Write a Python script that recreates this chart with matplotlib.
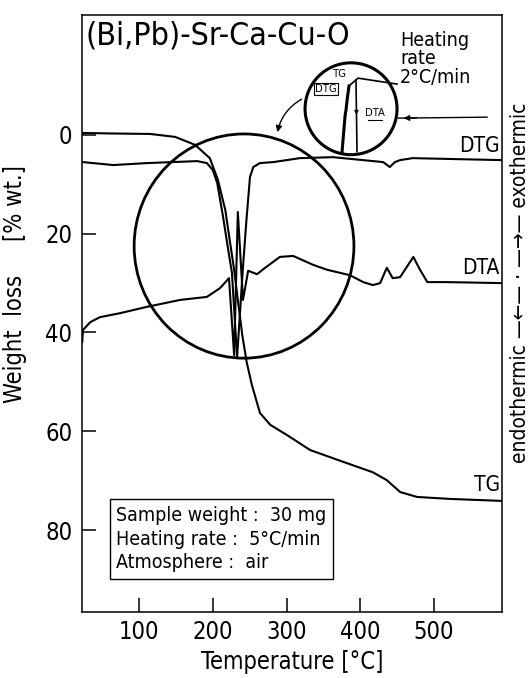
import matplotlib
matplotlib.use("Agg")
import matplotlib.pyplot as plt
from matplotlib.patches import Ellipse, FancyArrowPatch

plt.rcParams['font.family'] = ['DejaVu Sans']
plt.rcParams['font.stretch'] = 'condensed'

# ---------------- data ----------------
tg_temp = [24, 60, 115, 149, 176, 196, 207, 217, 223, 229, 234, 240, 246, 253,
           264, 278, 301, 332, 377, 417, 436, 454, 477, 522, 592]
tg_loss = [-0.4, -0.3, -0.2, 0.4, 2.0, 4.7, 9.1, 15.2, 21.3, 27.3, 33.4, 40.5,
           46.0, 50.6, 56.3, 58.7, 60.8, 63.8, 66.2, 68.3, 69.9, 72.3, 73.3, 73.7, 74.1]

dtg_temp = [24, 65, 111, 179, 192, 200, 206, 214, 221, 226, 233, 241, 246, 250.5,
            255, 264, 282, 318, 363, 431, 440, 447, 454, 471, 592]
dtg_val = [5.5, 6.1, 5.7, 5.3, 5.7, 7.1, 9.7, 16.6, 23.3, 27.9, 45.0, 26.7, 16.6,
           8.5, 6.5, 5.7, 5.5, 4.7, 4.5, 5.5, 6.5, 5.5, 5.1, 4.7, 5.1]

dta_temp = [23, 24, 34, 47, 74, 111, 156, 192, 210, 222, 229, 234, 241, 248, 260,
            271, 291, 309, 336, 355, 386, 404, 417, 427, 436, 444, 454, 472, 481,
            491, 518, 592]
dta_val = [41.9, 39.5, 37.9, 36.9, 36.1, 34.8, 33.4, 32.8, 31.0, 29.0, 44.6, 15.6,
           33.4, 27.5, 28.2, 26.9, 24.7, 24.5, 26.3, 27.3, 28.4, 29.8, 30.4, 30.0,
           26.9, 29.0, 28.8, 24.7, 27.3, 29.8, 29.8, 30.0]

x_ticks = [100, 200, 300, 400, 500]
y_ticks = [0, 20, 40, 60, 80]
title = "(Bi,Pb)-Sr-Ca-Cu-O"
info_lines = ["Sample weight :  30 mg", "Heating rate :  5°C/min", "Atmosphere :  air"]
curve_labels = ["DTG", "DTA", "TG"]

# ---------------- figure ----------------
fig = plt.figure(figsize=(5.3, 6.78), dpi=100)
ax = fig.add_axes([0.1547, 0.0973, 0.7925, 0.8807])

lw = 1.5
ax.plot(tg_temp, tg_loss, color='black', lw=lw)
ax.plot(dtg_temp, dtg_val, color='black', lw=lw)
ax.plot(dta_temp, dta_val, color='black', lw=lw)

ax.set_xlim(22.7, 592.2)
ax.set_ylim(96.6, -24.3)
ax.set_xticks(x_ticks)
ax.set_yticks(y_ticks)
ax.tick_params(direction='in', length=10, width=1.1, labelsize=17,
               top=False, right=False)
ax.tick_params(axis='y', pad=7)
ax.tick_params(axis='x', pad=6)
for s in ax.spines.values():
    s.set_linewidth(1.1)

ax.set_xlabel("Temperature [°C]", fontsize=17, labelpad=4)
ax.set_ylabel("Weight  loss     [% wt.]", fontsize=17)
ax.yaxis.set_label_coords(-0.13, 0.55)

# title inside axes
ax.text(0.008, 0.99, title, transform=ax.transAxes, fontsize=23,
        ha='left', va='top')

# curve labels at right
ytr = ax.get_yaxis_transform()
ax.text(0.995, 4.3, curve_labels[0], fontsize=15, ha='right', va='bottom', transform=ytr)
ax.text(0.995, 29.0, curve_labels[1], fontsize=15, ha='right', va='bottom', transform=ytr)
ax.text(0.995, 73.0, curve_labels[2], fontsize=15, ha='right', va='bottom', transform=ytr)

# info box
ax.text(0.082, 0.067, "\n".join(info_lines), transform=ax.transAxes,
        fontsize=14, ha='left', va='bottom', linespacing=1.3,
        bbox=dict(boxstyle='square,pad=0.35', fc='white', ec='black', lw=1.0))

# big circle
ax.add_patch(Ellipse((242.4, 22.5), 298, 45.4, fill=False, ec='black', lw=2.0))
# small inset circle
ax.add_patch(Ellipse((387.5, -5.3), 124.7, 18.6, fill=False, ec='black', lw=2.2))

# curved arrow from inset to big circle
ax.add_patch(FancyArrowPatch((323.7, -7.5), (287.1, 0.0),
                             connectionstyle='arc3,rad=0.25',
                             arrowstyle='-|>', mutation_scale=9,
                             color='black', lw=1.0))

# inset content
ax.plot([386.1, 397.0, 449.8], [-10.1, -11.5, -10.3], color='black', lw=1.2)
ax.plot([384.7, 382.5, 380.7, 379.5, 378.0, 375.3], [-9.9, -7.5, -5.1, -4.0, -1.4, 3.4],
        color='black', lw=2.2)
ax.plot([394.2, 395.6], [-11.1, 3.4], color='black', lw=1.2)
ax.add_patch(FancyArrowPatch((394.8, -5.0), (395.0, -3.5), arrowstyle='-|>',
                             mutation_scale=6, color='black', lw=0.8))
ax.text(372.5, -12.4, "TG", fontsize=8, ha='center', va='center')
ax.text(353.6, -9.3, "DTG", fontsize=8, ha='center', va='center',
        bbox=dict(boxstyle='square,pad=0.1', fc='white', ec='black', lw=0.8))
ax.text(420.0, -4.5, "DTA", fontsize=8, ha='center', va='center')
ax.plot([410, 430], [-3.0, -3.0], color='black', lw=0.8)

# heating-rate note with arrow
ax.text(453.9, -21.0, "Heating\nrate\n2°C/min", fontsize=14, ha='left',
        va='top', linespacing=0.95)
ax.plot([451.2, 571.9], [-3.4, -3.6], color='black', lw=1.0)
ax.add_patch(FancyArrowPatch((480, -3.45), (455, -3.4), arrowstyle='-|>',
                             mutation_scale=8, color='black', lw=1.0))

# right-side vertical annotation
fig.text(0.982, 1 - 283 / 678, "endothermic \u2014\u2190\u2014 \u00b7 \u2014\u2192\u2014 exothermic",
         rotation=90, fontsize=15, ha='center', va='center')

fig.savefig("out.png", dpi=100)
